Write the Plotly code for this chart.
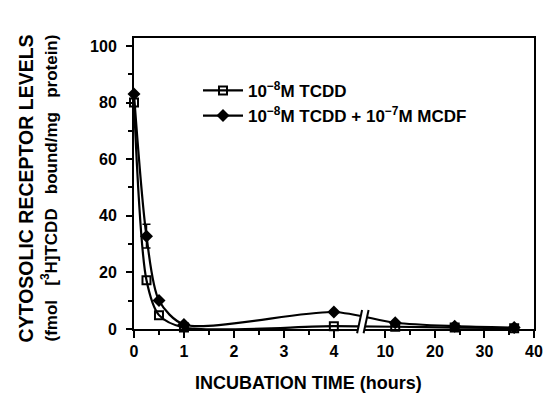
import plotly.graph_objects as go

# ---- data ----
hours = [0, 0.25, 0.5, 1, 4, 12, 24, 36]
tcdd = [80, 17.2, 4.9, 0.5, 1.0, 0.8, 0.5, 0.3]
tcdd_mcdf = [83, 32.8, 10.1, 1.6, 6.0, 2.2, 1.0, 0.5]
mcdf_err = [0, 4.2, 0, 0, 0, 0, 0, 0]
major_ticks = [0, 1, 2, 3, 4, 10, 20, 30, 40]
minor_ticks = [0.5, 1.5, 2.5, 3.5, 15, 25, 35]
y_ticks = [0, 20, 40, 60, 80, 100]
y_minor = [10, 30, 50, 70, 90]

# broken axis: linear hours 0-5, then compressed scale from 10 h
def hx(t):
    return t if t <= 5 else 5.03 + (t - 10) * 0.0992

X_MAX = hx(40)
Y_MAX = 102.8
FONT = "Liberation Sans"
L, R = 134, 9
PW = 543 - L - R

fig = go.Figure()
fig.add_trace(go.Scatter(
    x=[hx(t) for t in hours], y=tcdd, mode="lines+markers",
    name="10<sup>−8</sup>M TCDD",
    line=dict(color="black", width=2.2, shape="spline", smoothing=0.8),
    marker=dict(symbol="square-open", size=8, color="black", line=dict(width=2)),
    cliponaxis=False,
))
fig.add_trace(go.Scatter(
    x=[hx(t) for t in hours], y=tcdd_mcdf, mode="lines+markers",
    name="10<sup>−8</sup>M TCDD + 10<sup>−7</sup>M MCDF",
    line=dict(color="black", width=2.2, shape="spline", smoothing=0.8),
    marker=dict(symbol="diamond", size=10, color="black"),
    error_y=dict(type="data", array=mcdf_err, color="black", thickness=1.5, width=4),
    cliponaxis=False,
))

# axis break marks
bx = hx(4.58) / X_MAX
dx = 0.1 / X_MAX
yb, yt = -1.5 / Y_MAX, 6.7 / Y_MAX
w = 0.13 / X_MAX
fig.add_shape(type="path", xref="paper", yref="paper",
              path=f"M {bx-w/2-dx/2},{yb} L {bx-w/2+dx/2},{yt} L {bx+w/2+dx/2},{yt} L {bx+w/2-dx/2},{yb} Z",
              fillcolor="white", line=dict(width=0), layer="above")
for off in (-w/2, w/2):
    fig.add_shape(type="line", xref="paper", yref="paper",
                  x0=bx+off-dx/2, y0=yb, x1=bx+off+dx/2, y1=yt,
                  line=dict(color="black", width=2), layer="above")

fig.update_layout(
    width=543, height=396,
    margin=dict(l=L, r=R, t=38, b=67),
    paper_bgcolor="white", plot_bgcolor="white",
    font=dict(family=FONT, color="black", size=15, weight="bold"),
    showlegend=True,
    legend=dict(x=(198 - L) / PW, y=0.88, xanchor="left", yanchor="top",
                bgcolor="rgba(0,0,0,0)", font=dict(size=17, family=FONT, weight="bold"),
                itemwidth=40),
    xaxis=dict(range=[0, X_MAX], showgrid=False, zeroline=False, automargin=False,
               showline=True, linecolor="black", linewidth=2, mirror=True,
               tickmode="array", tickvals=[hx(t) for t in major_ticks],
               ticktext=[str(t) for t in major_ticks], ticklabeloverflow="allow",
               ticks="outside", ticklen=7, tickwidth=2, tickcolor="black",
               tickfont=dict(size=16, family=FONT, weight="bold"),
               minor=dict(tickmode="array", tickvals=[hx(t) for t in minor_ticks],
                          ticks="outside", ticklen=4, tickwidth=2, tickcolor="black")),
    yaxis=dict(range=[0, Y_MAX], showgrid=False, zeroline=False, automargin=False,
               showline=True, linecolor="black", linewidth=2, mirror=True,
               tickmode="array", tickvals=y_ticks, ticklabeloverflow="allow",
               ticks="outside", ticklen=6, tickwidth=2, tickcolor="black",
               ticklabelstandoff=6,
               tickfont=dict(size=16, family=FONT, weight="bold"),
               minor=dict(tickmode="array", tickvals=y_minor,
                          ticks="outside", ticklen=4, tickwidth=1.5, tickcolor="black")),
)

fig.add_annotation(text="INCUBATION TIME (hours)", xref="paper", yref="paper",
                   x=(308 - L) / PW, y=0, yshift=-54, xanchor="center", yanchor="middle",
                   showarrow=False, font=dict(size=18, family=FONT, weight="bold"))
fig.add_annotation(text="CYTOSOLIC RECEPTOR LEVELS", xref="paper", yref="paper",
                   x=0, xshift=-109, y=0.5, yshift=-5, xanchor="center", yanchor="middle",
                   textangle=-90, showarrow=False,
                   font=dict(size=19.5, family=FONT, weight="bold"))
nb = "\u00a0\u00a0\u00a0"
fig.add_annotation(text=f"(fmol{nb}[<sup>3</sup>H]TCDD{nb}bound/mg{nb}protein)",
                   xref="paper", yref="paper",
                   x=0, xshift=-85, y=0.5, yshift=-5, xanchor="center", yanchor="middle",
                   textangle=-90, showarrow=False,
                   font=dict(size=17, family=FONT, weight="bold"))

fig.write_html("out.html")
